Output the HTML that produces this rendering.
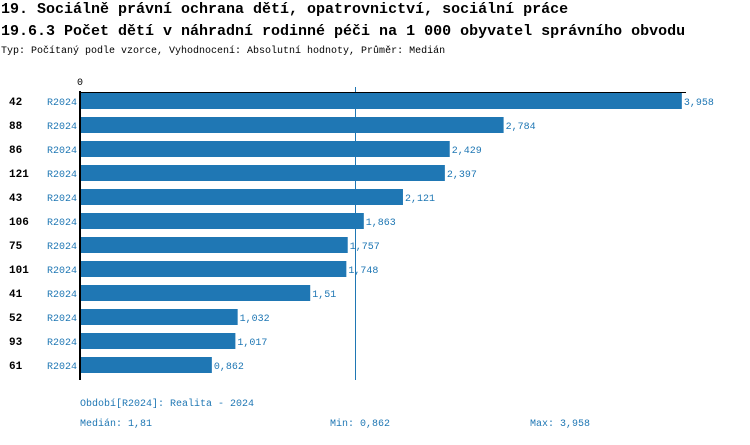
<!DOCTYPE html>
<html><head><meta charset="utf-8"><style>
body{margin:0;background:#fff;width:750px;height:440px;overflow:hidden;font-family:"Liberation Mono",monospace}
svg text{font-family:"Liberation Mono",monospace}
</style></head><body>
<svg width="750" height="440">
<text x="1" y="13" font-size="15" font-weight="bold">19. Sociálně právní ochrana dětí, opatrovnictví, sociální práce</text>
<text x="1" y="35" font-size="15" font-weight="bold">19.6.3 Počet dětí v náhradní rodinné péči na 1 000 obyvatel správního obvodu</text>
<text x="1" y="53" font-size="10">Typ: Počítaný podle vzorce, Vyhodnocení: Absolutní hodnoty, Průměr: Medián</text>
<text x="80" y="85" font-size="10" text-anchor="middle">0</text>
<line id="med" y1="87" y2="380" stroke="#1f77b4" stroke-width="1"/>
<g id="bars"></g>
<line x1="80" y1="91" x2="80" y2="380" stroke="#000" stroke-width="2"/>
<line x1="79" y1="92.5" x2="686" y2="92.5" stroke="#000" stroke-width="1"/>
<text x="80" y="406" font-size="10" fill="#1f77b4">Období[R2024]: Realita - 2024</text>
<text x="80" y="426" font-size="10" fill="#1f77b4">Medián: 1,81</text>
<text x="330" y="426" font-size="10" fill="#1f77b4">Min: 0,862</text>
<text x="530" y="426" font-size="10" fill="#1f77b4">Max: 3,958</text>
</svg>
<script>
const categories=["42","88","86","121","43","106","75","101","41","52","93","61"];
const values=[3.958,2.784,2.429,2.397,2.121,1.863,1.757,1.748,1.51,1.032,1.017,0.862];
const valueLabels=["3,958","2,784","2,429","2,397","2,121","1,863","1,757","1,748","1,51","1,032","1,017","0,862"];
const median=1.81;
const x0=81, scale=151.8;
const xs=v=>x0+v*scale;
const ys=i=>101+i*24;
const NS="http://www.w3.org/2000/svg";
const g=document.getElementById('bars');
function mk(t,a){const e=document.createElementNS(NS,t);for(const k in a)e.setAttribute(k,a[k]);g.appendChild(e);return e;}
categories.forEach((c,i)=>{
  const y=ys(i);
  const r=mk('rect',{x:x0,y:y-8,width:xs(values[i])-x0,height:16,fill:'#1f77b4'});
  
  
  const t1=mk('text',{x:9,y:y+4,'font-size':11,'font-weight':'bold'});t1.textContent=c;
  
  
  const t2=mk('text',{x:47,y:y+4,'font-size':10,fill:'#1f77b4'});t2.textContent='R2024';
  
  
  const t3=mk('text',{x:xs(values[i])+2,y:y+4,'font-size':10,fill:'#1f77b4'});t3.textContent=valueLabels[i];
  
  
});
const m=document.getElementById('med');m.setAttribute('x1',Math.round(xs(median))-0.5);m.setAttribute('x2',Math.round(xs(median))-0.5);
</script>
</body></html>
